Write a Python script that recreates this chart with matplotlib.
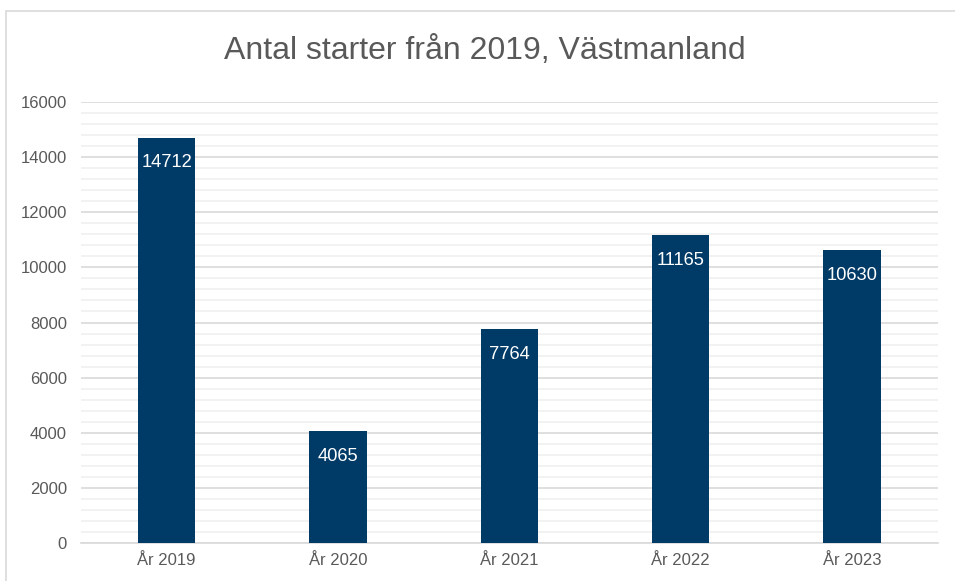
import matplotlib.pyplot as plt
from matplotlib.patches import Rectangle
from matplotlib.ticker import MultipleLocator

plt.rcParams['font.family'] = ['Liberation Sans', 'DejaVu Sans']

# data
years = ['År 2019', 'År 2020', 'År 2021', 'År 2022', 'År 2023']
starts = [14712, 4065, 7764, 11165, 10630]

bar_color = '#003a66'
text_gray = '#595959'

fig = plt.figure(figsize=(9.55, 5.81), dpi=100)
ax = fig.add_axes([0.0848, 0.0654, 0.8972, 0.759])

# yttre ram
fig.patches.append(Rectangle((6 / 955, -0.01), 1.0, 1 - 11 / 581 + 0.01,
                             transform=fig.transFigure, fill=False,
                             edgecolor='#d9d9d9', linewidth=1.2))

x = range(len(years))
bars = ax.bar(x, starts, width=0.335, color=bar_color, zorder=3)

for b, v in zip(bars, starts):
    ax.text(b.get_x() + b.get_width() / 2, v - 600, str(v),
            ha='center', va='top', color='white', fontsize=13.2, zorder=4)

ax.set_xlim(-0.5, len(years) - 0.5)
ax.set_ylim(0, 16000)
ax.yaxis.set_major_locator(MultipleLocator(2000))
ax.yaxis.set_minor_locator(MultipleLocator(400))
ax.grid(axis='y', which='major', color='#d9d9d9', linewidth=1.2, zorder=0)
ax.grid(axis='y', which='minor', color='#f0f0f0', linewidth=1.2, zorder=0)

ax.set_xticks(list(x))
ax.set_xticklabels(years)
ax.tick_params(axis='both', which='both', length=0, labelsize=12,
               labelcolor=text_gray)
ax.tick_params(axis='y', pad=10)
ax.tick_params(axis='x', pad=7)

for s in ['top', 'right', 'left']:
    ax.spines[s].set_visible(False)
ax.spines['bottom'].set_color('#d9d9d9')
ax.spines['bottom'].set_linewidth(1.2)

fig.text(0.508, 0.912, 'Antal starter från 2019, Västmanland', ha='center',
         va='center', fontsize=23, color=text_gray)

plt.savefig('out.png', dpi=100)
